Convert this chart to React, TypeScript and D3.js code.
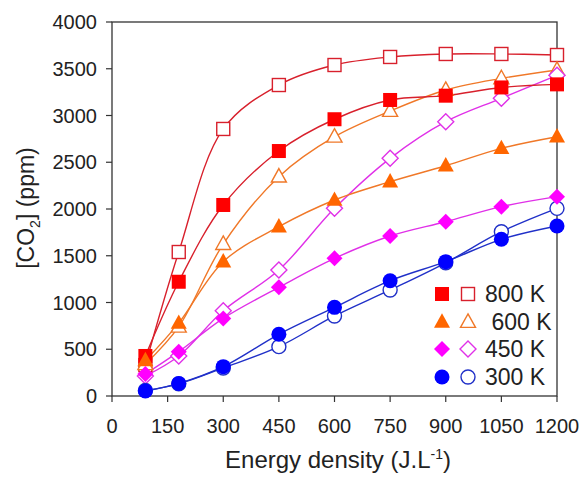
import React from "react";
import * as d3 from "d3";

const energy = [90, 180, 300, 450, 600, 750, 900, 1050, 1200];
const k800Filled = [428, 1222, 2043, 2620, 2960, 3166, 3212, 3300, 3333];
const k800Open = [330, 1540, 2856, 3326, 3540, 3626, 3658, 3658, 3647];
const k600Filled = [380, 780, 1437, 1811, 2096, 2292, 2463, 2649, 2773];
const k600Open = [340, 741, 1625, 2346, 2773, 3048, 3273, 3397, 3487];
const k450Filled = [235, 474, 830, 1162, 1472, 1711, 1864, 2025, 2132];
const k450Open = [214, 428, 912, 1348, 2007, 2542, 2934, 3184, 3430];
const k300Filled = [53, 135, 314, 660, 948, 1233, 1437, 1676, 1818];
const k300Open = [60, 130, 300, 528, 856, 1134, 1425, 1757, 2007];
const xTicks = [0, 150, 300, 450, 600, 750, 900, 1050, 1200];
const yTicks = [0, 500, 1000, 1500, 2000, 2500, 3000, 3500, 4000];
const legendLabels = ["800 K", " 600 K", "450 K", "300 K"];

type Shape = "square" | "triangle" | "diamond" | "circle";
const seriesList = [
  { vals: k800Open, shape: "square" as Shape, filled: false, fill: "#ff0000", stroke: "#d8202c", line: "#d8202c" },
  { vals: k600Open, shape: "triangle" as Shape, filled: false, fill: "#ff6600", stroke: "#f07828", line: "#f07828" },
  { vals: k450Open, shape: "diamond" as Shape, filled: false, fill: "#ff00ff", stroke: "#e030e8", line: "#e030e8" },
  { vals: k300Open, shape: "circle" as Shape, filled: false, fill: "#0000ff", stroke: "#2030c8", line: "#2030c8" },
  { vals: k800Filled, shape: "square" as Shape, filled: true, fill: "#ff0000", stroke: "#ff0000", line: "#d8202c" },
  { vals: k600Filled, shape: "triangle" as Shape, filled: true, fill: "#ff6600", stroke: "#ff6600", line: "#f07828" },
  { vals: k450Filled, shape: "diamond" as Shape, filled: true, fill: "#ff00ff", stroke: "#ff00ff", line: "#e030e8" },
  { vals: k300Filled, shape: "circle" as Shape, filled: true, fill: "#0000ff", stroke: "#0000ff", line: "#2030c8" },
];

const W = 581, H = 478;
const left = 112, right = 557, top = 22, bottom = 396;
const font = "'Liberation Sans', Arial, Helvetica, sans-serif";

function Marker({ shape, cx, cy, filled, fill, stroke }: any) {
  const f = filled ? fill : "white";
  const sw = filled ? 0 : 1.4;
  if (shape === "square") {
    const s = filled ? 14 : 13;
    return <rect x={cx - s / 2} y={cy - s / 2} width={s} height={s} fill={f} stroke={stroke} strokeWidth={sw} />;
  }
  if (shape === "triangle") {
    const s = filled ? 16 : 15;
    const h = s * 0.9;
    const p = `${cx},${cy - h * 0.6} ${cx + s / 2},${cy + h * 0.4} ${cx - s / 2},${cy + h * 0.4}`;
    return <polygon points={p} fill={f} stroke={stroke} strokeWidth={sw} />;
  }
  if (shape === "diamond") {
    const r = 8;
    const p = `${cx},${cy - r} ${cx + r},${cy} ${cx},${cy + r} ${cx - r},${cy}`;
    return <polygon points={p} fill={f} stroke={stroke} strokeWidth={sw} />;
  }
  return <circle cx={cx} cy={cy} r={filled ? 7.5 : 7} fill={f} stroke={stroke} strokeWidth={sw} />;
}

export default function App() {
  const x = d3.scaleLinear().domain([0, 1200]).range([left, right]);
  const y = d3.scaleLinear().domain([0, 4000]).range([bottom, top]);
  const line = d3
    .line<number>()
    .x((_, i) => x(energy[i]))
    .y((d) => y(d))
    .curve(d3.curveCatmullRom.alpha(0.5));

  const legendRows = [
    { shape: "square" as Shape, fill: "#ff0000", stroke: "#d8202c" },
    { shape: "triangle" as Shape, fill: "#ff6600", stroke: "#f07828" },
    { shape: "diamond" as Shape, fill: "#ff00ff", stroke: "#e030e8" },
    { shape: "circle" as Shape, fill: "#0000ff", stroke: "#2030c8" },
  ];
  const legendY = [294, 322, 349, 377];

  return (
    <svg width={W} height={H} style={{ position: "absolute", left: 0, top: 0, background: "white" }} fontFamily={font}>
      <rect x={0} y={0} width={W} height={H} fill="white" />
      <rect x={left} y={top} width={right - left} height={bottom - top} fill="none" stroke="#333" strokeWidth={1.3} />
      {xTicks.map((t) => (
        <g key={"x" + t}>
          <line x1={x(t)} x2={x(t)} y1={bottom} y2={bottom + 6} stroke="#333" strokeWidth={1.2} />
          <text x={x(t)} y={433} textAnchor="middle" fontSize={20} fill="#222">{t}</text>
        </g>
      ))}
      {yTicks.map((t) => (
        <g key={"y" + t}>
          <line x1={left - 6} x2={left} y1={y(t)} y2={y(t)} stroke="#333" strokeWidth={1.2} />
          <text x={97} y={y(t)} dy="0.35em" textAnchor="end" fontSize={20} fill="#222">{t}</text>
        </g>
      ))}
      <text x={338} y={468} textAnchor="middle" fontSize={24} fill="#222">
        Energy density (J.L<tspan dy={-9} fontSize={14}>-1</tspan><tspan dy={9}>)</tspan>
      </text>
      <text transform={`translate(34,208) rotate(-90)`} textAnchor="middle" fontSize={23} fill="#222">
        [CO<tspan dy={6} fontSize={14}>2</tspan><tspan dy={-6}>] (ppm)</tspan>
      </text>
      {seriesList.map((s, i) => (
        <path key={"l" + i} d={line(s.vals) || ""} fill="none" stroke={s.line} strokeWidth={1.4} />
      ))}
      {seriesList.map((s, i) => (
        <g key={"m" + i}>
          {s.vals.map((v, j) => (
            <Marker key={j} shape={s.shape} cx={x(energy[j])} cy={y(v)} filled={s.filled} fill={s.fill} stroke={s.stroke} />
          ))}
        </g>
      ))}
      {legendRows.map((r, i) => (
        <g key={"lg" + i}>
          <Marker shape={r.shape} cx={442} cy={legendY[i]} filled={true} fill={r.fill} stroke={r.fill} />
          <Marker shape={r.shape} cx={468} cy={legendY[i]} filled={false} fill={r.fill} stroke={r.stroke} />
          <text x={485} y={legendY[i]} dy="0.36em" fontSize={23} fill="#222" style={{ whiteSpace: "pre" }}>{legendLabels[i]}</text>
        </g>
      ))}
    </svg>
  );
}
